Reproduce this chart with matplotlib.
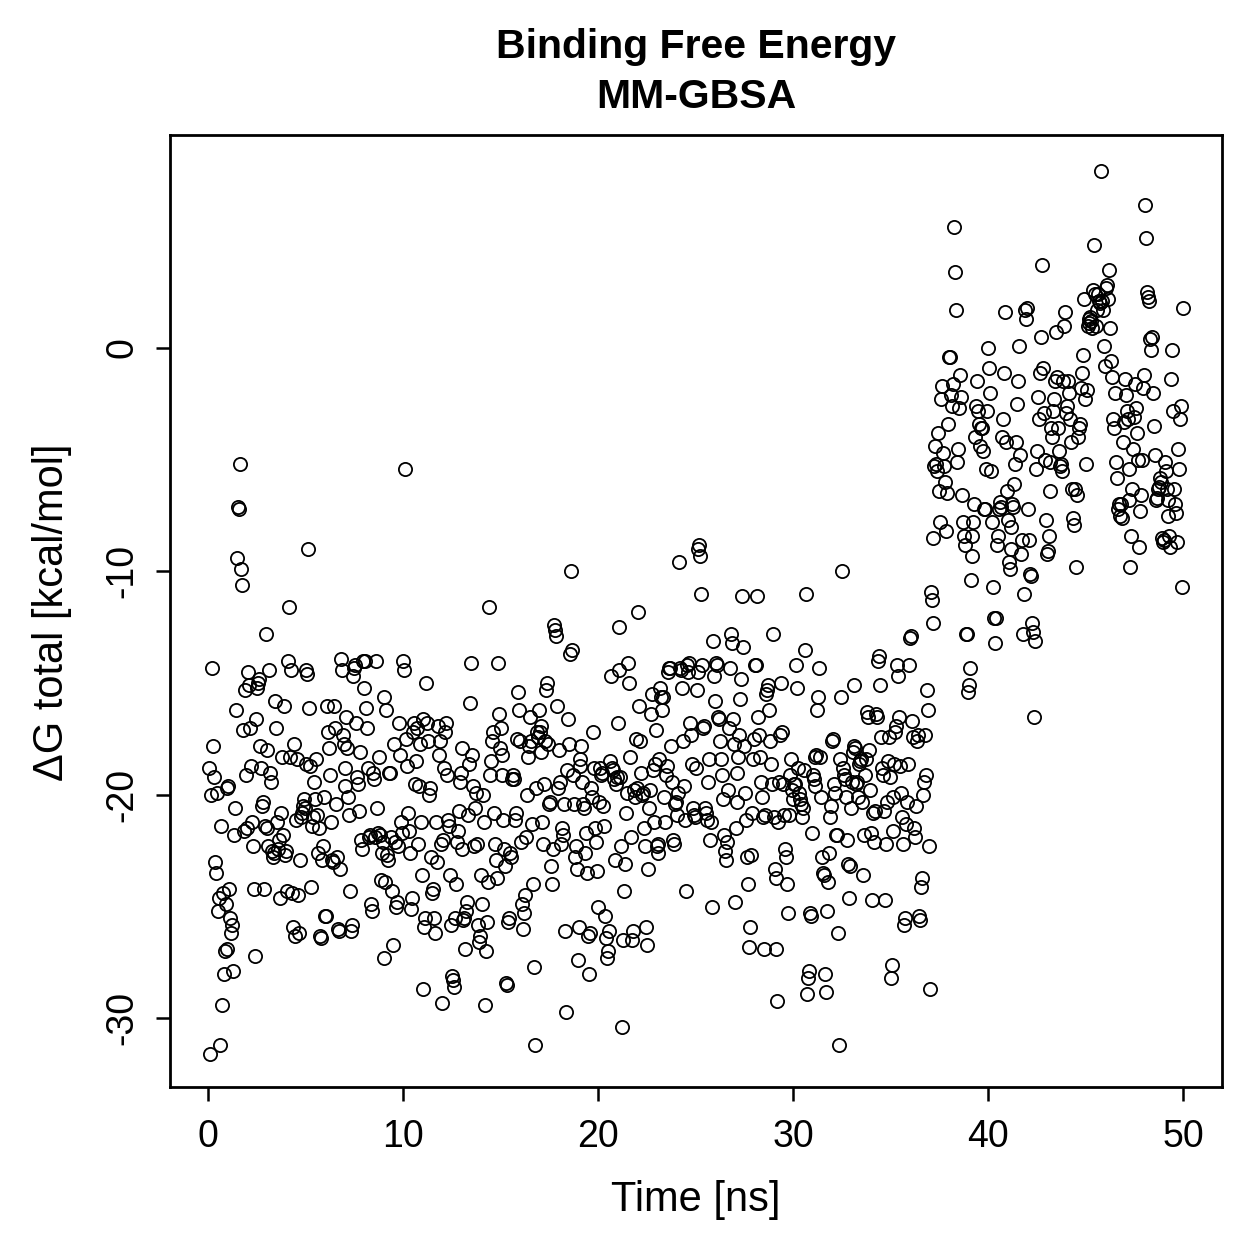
import numpy as np
import matplotlib
matplotlib.use("Agg")
import matplotlib.pyplot as plt

plt.rcParams['font.family'] = ['Liberation Sans', 'DejaVu Sans']

# one frame every 0.05 ns, 20 frames per ns, one row per ns
frame_step = 0.05
dG = [
    -18.8, -31.6, -20.0, -14.3, -17.8, -19.2, -23.0, -23.5, -19.9, -25.2, -24.6, -31.2, -21.4, -29.4, -24.4, -28.0, -27.0, -24.9, -26.9, -19.7,
    -19.6, -24.2, -25.5, -26.2, -25.8, -27.9, -21.8, -20.6, -16.2, -9.4, -7.1, -7.2, -5.2, -9.9, -10.6, -17.1, -21.6, -15.3, -19.1, -21.5,
    -14.5, -15.1, -17.0, -18.7, -21.2, -22.3, -24.2, -27.2, -16.6, -15.2, -15.0, -14.8, -17.8, -18.8, -20.5, -20.3, -24.2, -21.4, -12.8, -18.0,
    -21.5, -22.3, -14.4, -19.0, -19.4, -22.5, -22.8, -22.6, -15.8, -17.0, -21.2, -22.4, -22.0, -24.6, -20.8, -18.3, -21.8, -16.0, -22.7, -22.5,
    -24.3, -14.0, -11.6, -18.3, -14.4, -24.4, -25.9, -17.7, -26.3, -21.1, -18.4, -24.5, -26.2, -22.9, -21.0, -20.8, -20.5, -20.2, -20.6, -18.6,
    -14.4, -14.6, -9.0, -16.1, -18.7, -24.1, -21.4, -21.0, -19.4, -20.2, -18.4, -20.9, -22.6, -21.5, -26.3, -26.4, -22.9, -22.3, -20.1, -25.4,
    -25.4, -16.0, -17.2, -17.9, -19.1, -21.2, -22.9, -23.0, -16.0, -17.0, -20.4, -22.8, -26.0, -26.1, -23.3, -13.9, -14.4, -17.3, -17.7, -18.8,
    -19.6, -16.5, -17.9, -20.1, -20.9, -24.3, -26.1, -25.8, -14.7, -14.3, -14.2, -16.8, -19.2, -19.5, -20.7, -18.1, -22.0, -22.4, -14.0, -15.2,
    -14.0, -16.1, -17.0, -18.8, -21.9, -21.8, -24.9, -25.2, -19.0, -19.3, -21.9, -14.0, -20.6, -21.7, -18.3, -21.8, -23.8, -22.6, -22.1, -15.6,
    -27.3, -23.9, -16.2, -22.7, -22.9, -19.0, -19.0, -21.9, -24.3, -26.7, -17.7, -22.1, -25.0, -24.8, -22.3, -16.8, -18.2, -21.2, -21.7, -14.0,
    -14.4, -5.4, -17.5, -18.7, -20.8, -21.6, -22.6, -25.1, -24.6, -17.2, -16.8, -19.5, -18.5, -17.0, -22.2, -19.6, -17.7, -21.2, -23.6, -16.6,
    -28.7, -25.9, -25.5, -15.0, -16.8, -17.6, -20.0, -19.7, -22.8, -24.4, -24.2, -25.5, -26.2, -21.2, -23.0, -16.9, -18.2, -17.6, -22.2, -29.3,
    -22.0, -18.8, -17.2, -16.8, -19.1, -21.1, -21.4, -23.6, -25.8, -28.1, -28.3, -28.6, -25.5, -24.0, -22.1, -21.6, -20.7, -19.4, -19.0, -17.9,
    -22.4, -25.6, -25.5, -26.9, -25.2, -24.8, -20.9, -18.6, -15.9, -14.1, -18.2, -19.6, -22.3, -20.6, -19.9, -22.2, -25.8, -26.6, -26.3, -23.6,
    -24.9, -20.0, -21.2, -29.4, -27.0, -25.7, -23.9, -11.6, -19.1, -18.5, -17.6, -17.2, -20.8, -22.2, -22.9, -23.7, -14.1, -16.4, -17.9, -17.0,
    -18.2, -19.1, -21.1, -22.4, -23.2, -28.4, -28.5, -25.7, -25.5, -22.6, -22.8, -19.3, -19.1, -19.3, -21.1, -20.8, -17.5, -15.4, -16.2, -17.6,
    -22.1, -24.9, -26.0, -25.3, -24.5, -21.9, -20.0, -18.3, -17.8, -16.5, -17.6, -21.3, -24.0, -27.7, -31.2, -19.7, -17.2, -17.4, -16.2, -17.2,
    -16.9, -18.1, -21.2, -22.2, -19.5, -17.6, -15.3, -15.0, -17.7, -20.4, -20.3, -23.2, -24.0, -22.4, -12.4, -12.6, -12.9, -16.0, -19.7, -18.0,
    -19.4, -22.2, -21.5, -21.8, -20.4, -26.1, -29.7, -18.9, -16.6, -17.7, -13.7, -10.0, -13.5, -19.1, -20.4, -22.8, -22.3, -23.3, -27.4, -25.9,
    -18.4, -18.7, -17.8, -19.4, -20.4, -20.6, -22.6, -21.7, -23.5, -26.3, -28.0, -26.2, -19.7, -20.1, -17.2, -18.8, -21.5, -22.1, -23.4, -25.0,
    -20.3, -18.8, -19.1, -19.0, -20.5, -21.4, -25.4, -26.4, -27.3, -27.0, -26.1, -18.5, -14.7, -18.8, -18.9, -19.3, -22.9, -19.5, -19.2, -16.8,
    -12.5, -14.4, -19.2, -22.3, -30.4, -26.5, -24.3, -23.1, -20.8, -19.9, -14.1, -15.0, -18.3, -21.9, -26.5, -26.1, -19.8, -20.1, -17.5, -19.7,
    -11.8, -16.0, -17.6, -19.0, -20.0, -19.9, -21.5, -22.3, -25.9, -26.7, -23.3, -20.6, -19.8, -16.4, -15.5, -18.9, -21.2, -18.6, -17.1, -22.3,
    -22.6, -22.2, -18.4, -15.2, -15.6, -16.2, -15.6, -20.1, -21.2, -19.1, -18.7, -14.5, -14.3, -14.3, -17.8, -19.4, -22.0, -22.2, -20.4, -20.3,
    -20.9, -19.9, -9.6, -14.3, -14.4, -15.2, -17.6, -19.6, -21.1, -24.3, -14.2, -14.5, -14.1, -16.8, -17.3, -18.6, -20.6, -20.9, -21.0, -18.8,
    -15.3, -14.5, -9.0, -8.8, -9.3, -11.0, -14.2, -17.0, -16.9, -20.6, -20.8, -21.1, -19.4, -18.4, -22.0, -21.2, -25.0, -13.1, -14.7, -15.8,
    -14.1, -14.2, -16.5, -16.6, -17.6, -18.4, -19.1, -20.2, -21.8, -22.5, -22.9, -22.1, -19.8, -17.0, -14.3, -12.8, -13.2, -16.6, -17.7, -24.8,
    -21.5, -20.3, -19.0, -18.3, -17.3, -15.7, -14.8, -11.1, -13.4, -17.8, -19.9, -21.1, -22.8, -24.0, -26.8, -25.9, -22.7, -20.8, -18.4, -17.5,
    -14.2, -14.2, -11.1, -16.5, -17.3, -18.3, -19.4, -20.1, -21.0, -26.9, -20.9, -15.5, -15.3, -15.1, -16.2, -17.6, -18.6, -19.5, -12.8, -21.0,
    -23.3, -23.7, -26.9, -29.2, -21.2, -19.4, -17.3, -15.0, -17.2, -19.5, -20.9, -22.4, -22.8, -24.0, -25.3, -20.9, -19.1, -18.4, -19.8, -20.2,
    -19.5, -19.5, -14.2, -15.2, -18.8, -19.9, -20.2, -20.4, -21.0, -20.6, -18.9, -13.5, -11.0, -28.9, -28.2, -27.9, -25.3, -25.4, -21.7, -19.1,
    -19.3, -19.6, -18.3, -18.2, -16.2, -15.6, -14.3, -18.3, -20.1, -22.8, -23.5, -23.6, -28.0, -28.8, -25.2, -23.9, -22.6, -21.0, -20.5, -17.6,
    -17.5, -19.5, -19.9, -21.8, -21.8, -26.2, -31.2, -18.4, -15.6, -10.0, -18.8, -19.1, -19.3, -20.1, -22.0, -23.1, -24.6, -23.2, -20.6, -19.4,
    -18.1, -15.1, -17.8, -17.9, -19.5, -19.4, -20.1, -18.6, -18.5, -18.4, -20.3, -23.6, -21.8, -19.1, -18.4, -16.3, -16.5, -18.0, -19.8, -21.7,
    -24.7, -20.8, -22.1, -20.7, -16.4, -16.5, -14.0, -13.8, -15.1, -17.4, -18.8, -19.1, -20.7, -24.7, -22.2, -20.3, -18.5, -17.4, -19.2, -28.2,
    -27.6, -21.6, -20.1, -18.6, -17.2, -16.9, -14.2, -14.7, -16.5, -18.7, -19.9, -21.0, -22.2, -25.8, -25.5, -21.3, -20.3, -18.6, -14.2, -13.0,
    -12.9, -16.7, -17.4, -21.5, -21.9, -20.5, -17.6, -17.3, -25.4, -25.6, -24.1, -23.7, -20.0, -19.4, -17.3, -19.1, -15.3, -16.2, -22.3, -28.7,
    -10.9, -11.3, -12.3, -8.5, -5.3, -4.4, -5.2, -5.5, -3.8, -6.4, -7.8, -2.3, -1.7, -4.7, -5.3, -6.0, -8.2, -6.5, -3.4, -0.4,
    -0.4, -2.1, -2.6, -1.6, 5.4, 3.4, 1.7, -5.1, -4.5, -2.7, -1.2, -2.2, -6.6, -7.8, -8.4, -8.8, -12.8, -12.8, -15.4, -15.1,
    -14.3, -10.4, -8.4, -9.3, -7.8, -7.0, -4.0, -2.6, -1.5, -2.8, -3.4, -4.4, -3.6, -3.6, -4.6, -7.2, -7.2, -5.4, -2.8, 0.0,
    -0.9, -2.0, -5.5, -7.8, -10.7, -12.1, -13.2, -12.1, -8.8, -8.4, -7.2, -6.9, -7.1, -4.0, -3.2, -1.1, 1.6, -4.2, -6.4, -7.7,
    -9.6, -9.9, -9.0, -8.0, -7.0, -7.1, -6.1, -5.2, -4.2, -2.5, -1.5, 0.1, -4.8, -9.2, -8.6, -12.8, -11.0, 1.7, 1.3, 1.8,
    -7.2, -8.6, -10.1, -10.2, -12.3, -12.7, -16.5, -13.1, -5.4, -4.6, -2.2, -3.2, -1.1, 0.5, 3.7, -0.9, -2.9, -5.0, -7.7, -9.2,
    -9.1, -8.4, -6.4, -5.1, -3.6, -4.0, -2.8, -2.3, -1.5, 0.7, -1.3, -3.6, -4.6, -5.3, -5.2, -5.5, -1.5, 1.0, 1.6, -2.9,
    -2.6, -1.5, -2.0, -3.2, -4.2, -6.3, -7.6, -7.9, -6.3, -9.8, -6.6, -4.0, -3.6, -3.4, -1.8, -1.1, -0.3, 2.2, -2.3, -5.2,
    -1.9, 1.0, 1.3, 1.1, 1.4, 1.2, 0.9, 2.6, 4.6, 2.4, 1.0, 1.7, 2.4, 2.1, 2.0, 7.9, 2.1, 1.7, 0.1, -0.8,
    2.7, 2.8, 2.2, 3.5, 0.9, -0.6, -1.3, -3.2, -3.6, -2.0, -5.1, -5.8, -7.2, -7.0, -7.5, -7.0, -7.6, -4.2, -3.3, -1.4,
    -2.1, -2.8, -3.2, -5.4, -6.8, -9.8, -8.4, -6.3, -4.5, -3.1, -1.6, -2.7, -3.8, -5.0, -8.9, -7.3, -6.6, -5.0, -1.8, -1.2,
    6.4, 4.9, 2.5, 2.3, 2.1, 0.4, -0.1, 0.5, -2.0, -3.5, -4.8, -6.8, -6.7, -6.3, -6.2, -5.8, -6.0, -8.5, -8.7, -8.6,
    -5.1, -5.5, -6.3, -6.8, -7.5, -8.4, -8.9, -1.4, -0.1, -2.8, -6.3, -7.0, -7.4, -8.7, -4.5, -5.4, -3.2, -2.6, -10.7, 1.8,
]
time_ns = frame_step * np.arange(1, len(dG) + 1)

x_ticks = [0, 10, 20, 30, 40, 50]
y_ticks = [-30, -20, -10, 0]

fig = plt.figure(figsize=(12.59, 12.59), dpi=100)
ax = fig.add_axes([0.135, 0.1366, 0.8357, 0.7562])

ax.plot(time_ns, dG, 'o', mfc='none', mec='black', ms=9.5, mew=1.3, linestyle='none')

ax.set_xlim(-1.95, 52.0)
ax.set_ylim(-33.07, 9.53)
ax.set_xticks(x_ticks)
ax.set_yticks(y_ticks)
ax.set_yticklabels([str(v) for v in y_ticks], rotation=90, va='center')
ax.tick_params(axis='both', direction='out', length=10, width=1.8, labelsize=27, pad=13)
ax.tick_params(axis='y', pad=11)
for s in ax.spines.values():
    s.set_linewidth(2.0)

fig.text(0.553, 0.963, "Binding Free Energy", ha='center', va='center', fontsize=29.5, fontweight='bold')
fig.text(0.553, 0.923, "MM-GBSA", ha='center', va='center', fontsize=29.5, fontweight='bold')
fig.text(0.553, 0.047, "Time [ns]", ha='center', va='center', fontsize=30)
fig.text(0.041, 0.514, "ΔG total [kcal/mol]", ha='center', va='center', fontsize=30, rotation=90)

fig.savefig("out.png", dpi=100)
